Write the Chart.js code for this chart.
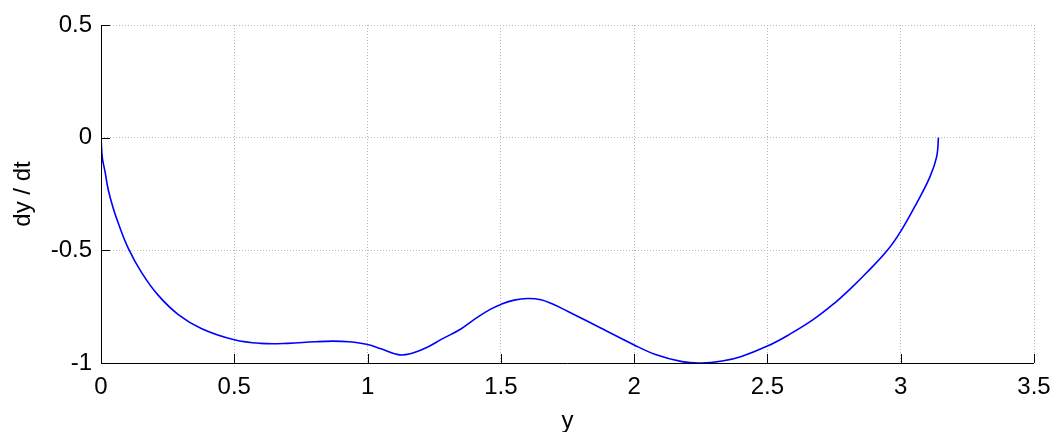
<!DOCTYPE html>
<html>
<head>
<meta charset="utf-8">
<script src="https://cdn.jsdelivr.net/npm/chart.js@4/dist/chart.umd.min.js"></script>
<style>
  html, body { margin: 0; padding: 0; background: #fff; }
  #wrap { width: 1054px; height: 432px; position: relative; }
</style>
</head>
<body>
<div id="wrap"><canvas id="c"></canvas></div>
<script>
// ---- data ----
const yValues = [0, 0.005, 0.015, 0.027, 0.045, 0.065, 0.102, 0.153, 0.215, 0.29, 0.378, 0.5, 0.6, 0.7, 0.8, 0.87, 0.93, 1.0, 1.05, 1.115, 1.16, 1.22, 1.28, 1.35, 1.41, 1.46, 1.5, 1.55, 1.6, 1.65, 1.69, 1.75, 1.86, 2.0, 2.08, 2.18, 2.25, 2.33, 2.4, 2.5, 2.58, 2.67, 2.75, 2.81, 2.87, 2.95, 3.0, 3.06, 3.11, 3.135, 3.1416];
const dydtValues = [0, -0.09, -0.15, -0.23, -0.31, -0.38, -0.49, -0.60, -0.70, -0.785, -0.848, -0.897, -0.913, -0.913, -0.906, -0.903, -0.906, -0.918, -0.937, -0.963, -0.959, -0.932, -0.893, -0.849, -0.799, -0.762, -0.740, -0.721, -0.714, -0.719, -0.736, -0.77, -0.836, -0.92, -0.962, -0.994, -1.0, -0.991, -0.972, -0.925, -0.875, -0.809, -0.736, -0.672, -0.602, -0.500, -0.416, -0.29, -0.173, -0.084, 0];
const xTicks = [0, 0.5, 1, 1.5, 2, 2.5, 3, 3.5];
const yTicks = [-1, -0.5, 0, 0.5];
const xTitle = 'y';
const yTitle = 'dy / dt';

const points = yValues.map((v, i) => ({ x: v, y: dydtValues[i] }));

const FONT = { family: '"Liberation Sans", Arial, sans-serif', size: 24 };

// inward ticks + solid axis lines, drawn from the scales
const axesPlugin = {
  id: 'axesPlugin',
  afterDatasetsDraw(chart) {
    const { ctx, chartArea: a, scales: { x, y } } = chart;
    ctx.save();
    ctx.strokeStyle = '#000';
    ctx.lineWidth = 1;
    ctx.beginPath();
    ctx.moveTo(a.left + 0.5, a.top);
    ctx.lineTo(a.left + 0.5, a.bottom + 0.5);
    ctx.lineTo(a.right, a.bottom + 0.5);
    xTicks.forEach(t => {
      const px = Math.round(x.getPixelForValue(t)) + 0.5;
      ctx.moveTo(px, a.bottom);
      ctx.lineTo(px, a.bottom - 9);
    });
    yTicks.forEach(t => {
      const py = Math.round(y.getPixelForValue(t)) + 0.5;
      ctx.moveTo(a.left, py);
      ctx.lineTo(a.left + 9, py);
    });
    ctx.stroke();
    ctx.restore();
  }
};

new Chart(document.getElementById('c'), {
  type: 'line',
  data: {
    datasets: [{
      data: points,
      borderColor: '#0000ff',
      borderWidth: 1.6,
      pointRadius: 0,
      fill: false,
      tension: 0.4,
      capBezierPoints: false
    }]
  },
  options: {
    responsive: true,
    maintainAspectRatio: false,
    animation: false,
    devicePixelRatio: 1,
    parsing: false,
    plugins: { legend: { display: false }, tooltip: { enabled: false } },
    layout: { padding: { top: 25, right: 20, bottom: 0, left: 0 } },
    scales: {
      x: {
        type: 'linear',
        min: 0, max: 3.5,
        afterBuildTicks: s => { s.ticks = xTicks.map(v => ({ value: v })); },
        afterFit: s => { s.height = 69; s.paddingLeft = 0; s.paddingRight = 0; },
        ticks: { font: FONT, color: '#000', padding: 10, maxRotation: 0, callback: v => String(v) },
        grid: { color: '#b8b8b8', lineWidth: 1, drawTicks: false, borderDash: [1, 2] },
        border: { display: false, dash: [1, 2] },
        title: { display: true, text: xTitle, font: FONT, color: '#000', padding: { top: 0, bottom: -4 } }
      },
      y: {
        type: 'linear',
        min: -1, max: 0.5,
        afterBuildTicks: s => { s.ticks = yTicks.map(v => ({ value: v })); },
        afterFit: s => { s.width = 101; s.paddingTop = 0; s.paddingBottom = 0; },
        ticks: { font: FONT, color: '#000', padding: 9, callback: v => String(v) },
        grid: { color: '#b8b8b8', lineWidth: 1, drawTicks: false, borderDash: [1, 2] },
        border: { display: false, dash: [1, 2] },
        title: { display: true, text: yTitle, font: FONT, color: '#000', padding: { top: 9, bottom: 0 } }
      }
    }
  },
  plugins: [axesPlugin]
});
</script>
</body>
</html>
